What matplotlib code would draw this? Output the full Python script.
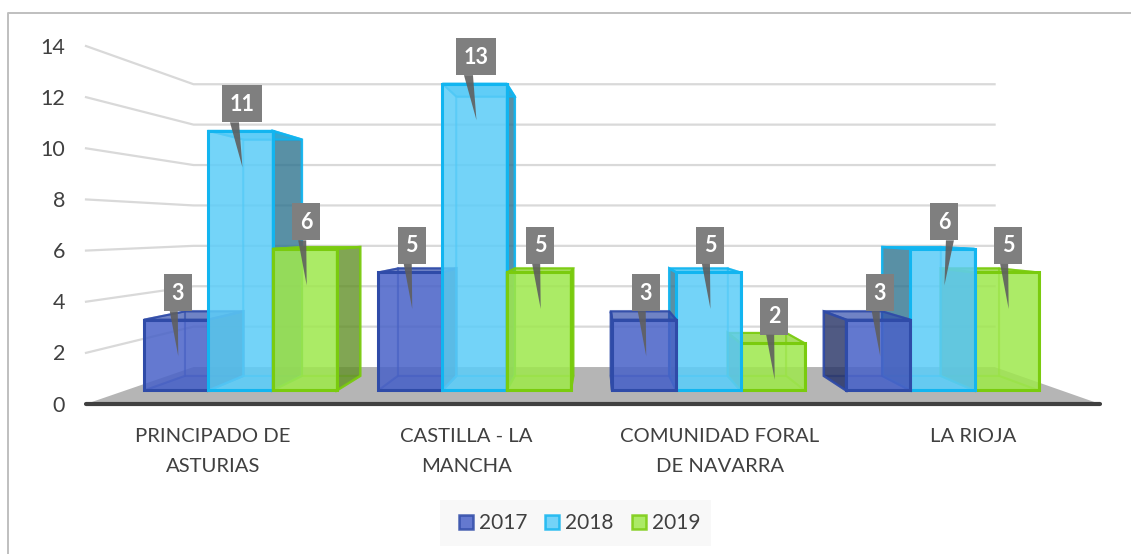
from matplotlib import pyplot as plt
from matplotlib.patches import Polygon, Patch, Rectangle

plt.rcParams['font.family'] = ['Lato', 'DejaVu Sans']

# =============================================================================
# Data
# =============================================================================
categories = ['PRINCIPADO DE\nASTURIAS', 'CASTILLA - LA\nMANCHA',
              'COMUNIDAD FORAL\nDE NAVARRA', 'LA RIOJA']
years = ['2017', '2018', '2019']
values_2017 = [3, 5, 3, 3]
values_2018 = [11, 13, 5, 6]
values_2019 = [6, 5, 2, 5]
y_ticks = [0, 2, 4, 6, 8, 10, 12, 14]

# colours per series: face, edge, side face
face_colors = ['#4A63C8', '#5DCDF8', '#9FE84E']
edge_colors = ['#2F4BA8', '#12B5F0', '#7ACB0E']
side_colors = ['#25305E', '#2F6F88', '#5F8A28']

# =============================================================================
# Perspective of the 3D box, in pixels of the figure
# =============================================================================
LEFT, RIGHT, BASE = 86, 1100, 404
CAT_W = (RIGHT - LEFT) / 4
UNIT = 25.57
VX, VY = 598, 228
S_WALL = 0.79
S_FRONT = 0.923
S_BACK = 0.84
GAP, BAR_W = 0.08, 0.2745


def project(cx, v, s):
    x = VX + (LEFT + CAT_W * cx - VX) * s
    y = VY + (BASE - UNIT * v - VY) * s
    return (x, y)


def draw_bar(ax, x0, x1, v, j, z):
    f = lambda cx, val: project(cx, val, S_FRONT)
    b = lambda cx, val: project(cx, val, S_BACK)
    face, edge, side = face_colors[j], edge_colors[j], side_colors[j]

    def poly(pts, color, alpha, e_alpha=0.4, lw=1.5, zo=0):
        ax.add_patch(Polygon(pts, closed=True, facecolor=color, alpha=alpha,
                             edgecolor='none', zorder=z + zo))
        ax.add_patch(Polygon(pts, closed=True, fill=False, edgecolor=edge,
                             alpha=e_alpha, lw=lw, zorder=z + zo + 0.01))

    # the far faces, seen through the bar
    poly([b(x0, 0), b(x1, 0), b(x1, v), b(x0, v)], face, 0.25)
    poly([f(x0, 0), f(x1, 0), b(x1, 0), b(x0, 0)], face, 0.45)

    # side faces, the one looking at the viewer is dark
    left_side = [f(x0, 0), f(x0, v), b(x0, v), b(x0, 0)]
    right_side = [f(x1, 0), f(x1, v), b(x1, v), b(x1, 0)]
    if f(x1, 0)[0] < VX:
        poly(left_side, face, 0.2, zo=0.1)
        poly(right_side, side, 0.75, e_alpha=0.9, lw=1.8, zo=0.2)
    else:
        poly(right_side, face, 0.2, zo=0.1)
        poly(left_side, side, 0.75, e_alpha=0.9, lw=1.8, zo=0.2)

    # top and front
    poly([f(x0, v), f(x1, v), b(x1, v), b(x0, v)], edge, 0.6, e_alpha=0.9, zo=0.3)
    poly([f(x0, 0), f(x1, 0), f(x1, v), f(x0, v)], face, 0.82, e_alpha=1, lw=2.2, zo=0.4)


def draw_label(ax, cx, v, text, lean):
    x, y = project(cx, v, S_FRONT)
    x += 1.5
    w = 40 if len(text) > 1 else 28
    bottom = y - 8.5
    base0 = x + lean - (4 if len(text) > 1 else 0)
    ax.add_patch(Rectangle((x - w / 2, bottom - 37), w, 37, facecolor='#7F7F7F',
                           edgecolor='none', zorder=50))
    ax.add_patch(Polygon([(base0, bottom), (base0 + 7 + len(text) * 1.0, bottom), (x + 0.5, bottom + 45)],
                         closed=True, facecolor='#5F5F5F', alpha=0.9,
                         edgecolor='none', zorder=50))
    ax.text(x, bottom - 18, text, color='white', fontsize=15.5, fontweight='bold',
            ha='center', va='center', zorder=51)


# =============================================================================
# Main code
# =============================================================================
fig = plt.figure(figsize=(11.31, 5.54), dpi=100)
ax = fig.add_axes([0, 0, 1, 1])
ax.set_xlim(0, 1131)
ax.set_ylim(554, 0)
ax.axis('off')

# frame of the chart, only left and top show
ax.plot([7.5, 7.5, 1131], [554, 12.5, 12.5], color='#BFBFBF', lw=1.4, zorder=1)

# walls
for t in y_ticks[1:]:
    ax.plot(*zip(project(0, t, 1), project(0, t, S_WALL), project(4, t, S_WALL)),
            color='#D9D9D9', lw=1.6, zorder=2)

# floor
ax.add_patch(Polygon([project(0, 0, 1), project(4, 0, 1), project(4, 0, S_WALL), project(0, 0, S_WALL)],
                     closed=True, facecolor='#B5B5B5', edgecolor='none', zorder=3))
ax.plot(*zip(project(0, 0, 1), project(4, 0, 1)), color='#404040', lw=3,
        solid_capstyle='round', zorder=4)

for t in y_ticks:
    x, y = project(0, t, 1)
    ax.text(x - 21, y + 1.5, str(t), color='#404040', fontsize=15.5, ha='right', va='center', zorder=5)

for i, name in enumerate(categories):
    x, y = project(i + 0.5, 0, 1)
    ax.text(x, y + 24, name, color='#404040', fontsize=14.6, ha='center', va='top',
            linespacing=1.96, zorder=5)

# groups left of the centre are painted from 2017 on, the others from 2019 back
series = [values_2017, values_2018, values_2019]
z = 10
for i in range(len(categories)):
    order = [0, 1, 2] if i < 2 else [2, 1, 0]
    for j in order:
        x0 = i + GAP + j * BAR_W
        draw_bar(ax, x0, x0 + BAR_W, series[j][i], j, z)
        z += 1

for i in range(len(categories)):
    for j, vals in enumerate(series):
        lean = 2 if (i == 3 and j == 1) else -8
        draw_label(ax, i + GAP + (j + 0.5) * BAR_W, vals[i], str(vals[i]), lean)

ax.add_patch(Rectangle((440, 500), 271, 46, facecolor='#F8F8F8', edgecolor='none', zorder=5))
handles = [Patch(facecolor=face_colors[j], edgecolor=edge_colors[j], alpha=0.85, lw=1.8, label=years[j])
           for j in range(3)]
leg = ax.legend(handles=handles, ncol=3, loc='center', bbox_to_anchor=(579.5, 523),
                bbox_transform=ax.transData, frameon=False, fontsize=15, labelcolor='#404040',
                handlelength=0.68, handleheight=0.68, handletextpad=0.29, columnspacing=0.85,
                borderpad=0)
leg.set_zorder(60)

plt.savefig('out.png', dpi=100)
